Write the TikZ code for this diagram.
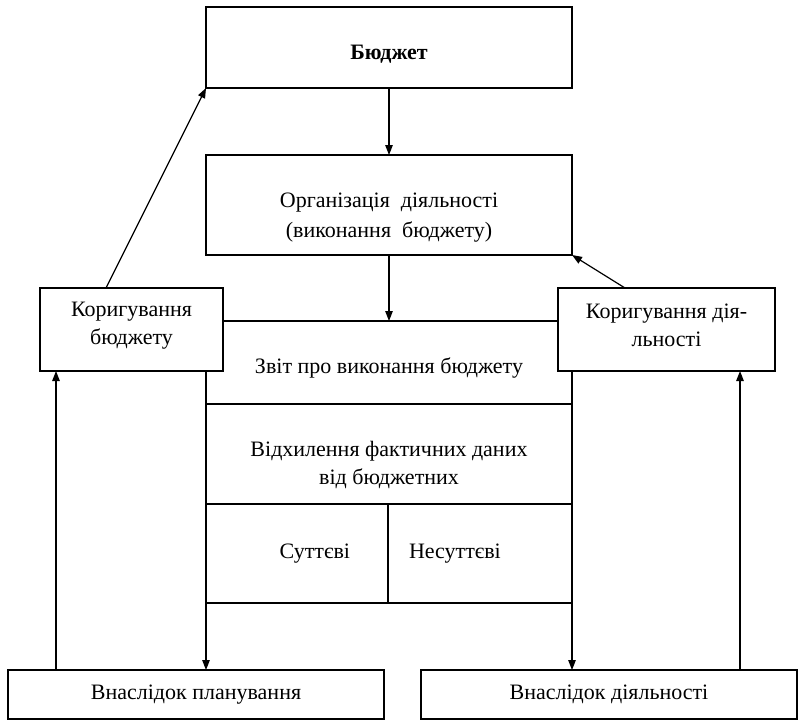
\documentclass[tikz,border=0pt]{standalone}
\usepackage{fontspec}
\setmainfont{Liberation Serif}
\usetikzlibrary{arrows.meta, positioning, calc}
\tikzset{
  every picture/.style={line width=1.2pt},
  every node/.style={font=\fontsize{22}{28}\selectfont},
  box/.style={draw, fill=white, align=center, inner sep=0pt, outer sep=0pt},
  txt/.style={align=center, inner sep=0pt},
  arrow/.style={-{Triangle[length=10pt, width=7.5pt]}, draw},
}

\begin{document}
\begin{tikzpicture}[x=1pt, y=-1pt]
  \useasboundingbox (0,0) rectangle (802,721);
  \node[box, minimum width=366, minimum height=81] (budget) at (389,47.5) {};
  \node[txt] (budgettxt) at ([yshift=-6.5pt]budget.center) {\textbf{Бюджет}};
  \node[box, minimum width=366, minimum height=100] (org) at (389,205) {};
  \node[txt] (orgtxt) at ([yshift=-13pt]org.center) {Організація\ \ діяльності\\[2pt](виконання\ \ бюджету)};
  % central block: report, deviations, two kinds
  \node[box, minimum width=366, minimum height=83] (report) at (389,362.5) {};
  \node[txt] (reporttxt) at ([yshift=-5.5pt]report.center) {Звіт про виконання бюджету};
  \node[box, minimum width=366, minimum height=100, below=0pt of report] (dev) {};
  \node[txt] (devtxt) at ([yshift=-11pt]dev.center) {Відхилення фактичних даних\\від бюджетних};
  \node[box, minimum width=182, minimum height=99, text width=106, inner xsep=38, align=right, below=0pt of dev.south west, anchor=north west] (sut) {Суттєві};
  \node[box, minimum width=184, minimum height=99, text width=142, inner xsep=21, align=left, right=0pt of sut] (nesut) {Несуттєві};
  % corrections overlap the report box
  \node[box, minimum width=183, minimum height=83] (korb) at (131.5,329.5) {};
  \node[txt] (korbtxt) at ([yshift=4pt]korb.center) {Коригування\\бюджету};
  \node[box, minimum width=217, minimum height=83] (kord) at (666.5,329.5) {};
  \node[txt] (kordtxt) at ([yshift=4pt]kord.center) {Коригування дія-\\льності};
  \node[box, minimum width=376, minimum height=49] (plan) at (196,694.5) {Внаслідок планування};
  \node[box, minimum width=376, minimum height=49] (act) at (609,694.5) {Внаслідок діяльності};
  \draw[arrow] (budget) -- (org);
  \draw[arrow] (org) -- (report);
  \draw[arrow] ([xshift=-25.5pt]korb.north) -- (budget.south west);
  \draw[arrow] ([xshift=-41.5pt]kord.north) -- (org.south east);
  \draw[arrow] (sut.south west) -- (sut.south west |- plan.north);
  \draw[arrow] (nesut.south east) -- (nesut.south east |- act.north);
  \draw[arrow] ([xshift=48pt]plan.north west) -- ([xshift=48pt]plan.north west |- korb.south);
  \draw[arrow] ([xshift=-57pt]act.north east) -- ([xshift=-57pt]act.north east |- kord.south);
\end{tikzpicture}
\end{document}
